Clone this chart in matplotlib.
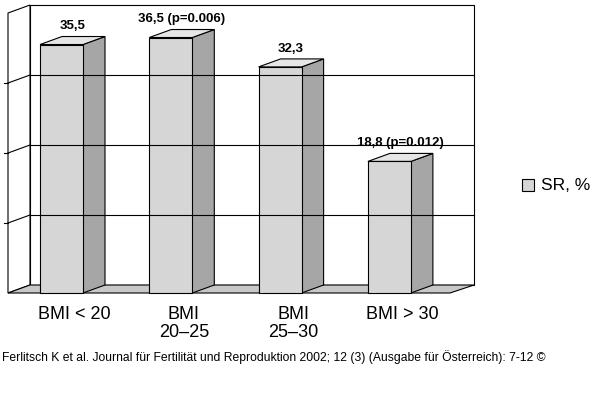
import matplotlib
matplotlib.use("Agg")
import matplotlib.pyplot as plt
from matplotlib.patches import Polygon

categories = ["BMI < 20", "BMI\n20–25", "BMI\n25–30", "BMI > 30"]
values = [35.5, 36.5, 32.3, 18.8]
labels = ["35,5", "36,5 (p=0.006)", "32,3", "18,8 (p=0.012)"]
series_name = "SR, %"
caption = "Ferlitsch K et al. Journal für Fertilität und Reproduktion 2002; 12 (3) (Ausgabe für Österreich): 7-12 ©"

fig = plt.figure(figsize=(6, 4.08), dpi=100)
ax = fig.add_axes([0, 0, 1, 1])
ax.set_xlim(0, 600)
ax.set_ylim(-16.43, 41.86)
ax.axis("off")

dx, dv = 22, 8 / 7
ymax = 40
ax.add_patch(Polygon([(30, dv), (474, dv), (474, ymax + dv), (30, ymax + dv)], closed=True,
                     facecolor="white", edgecolor="black", lw=0.8))
ax.add_patch(Polygon([(8, 0), (30, dv), (30, ymax + dv), (8, ymax)], closed=True,
                     facecolor="white", edgecolor="black", lw=0.8))
ax.add_patch(Polygon([(8, 0), (450, 0), (474, dv), (30, dv)], closed=True,
                     facecolor="#c8c8c8", edgecolor="black", lw=0.8))
for g in [10, 20, 30]:
    ax.plot([30, 474], [g + dv, g + dv], color="black", lw=0.8)
    ax.plot([8, 30], [g, g + dv], color="black", lw=0.8)
    ax.plot([4, 8], [g, g], color="black", lw=0.8)

w = 43
x0s = [40 + 109.3 * i for i in range(len(values))]
for x0, v, lab, cat in zip(x0s, values, labels, categories):
    ax.add_patch(Polygon([(x0 + w, 0), (x0 + w + dx, dv), (x0 + w + dx, v + dv), (x0 + w, v)],
                         closed=True, facecolor="#a6a6a6", edgecolor="black", lw=0.8))
    ax.add_patch(Polygon([(x0, v), (x0 + w, v), (x0 + w + dx, v + dv), (x0 + dx, v + dv)],
                         closed=True, facecolor="#e6e6e6", edgecolor="black", lw=0.8))
    ax.add_patch(Polygon([(x0, 0), (x0 + w, 0), (x0 + w, v), (x0, v)],
                         closed=True, facecolor="#d6d6d6", edgecolor="black", lw=0.8))
    ax.text(x0 + w / 2 + dx / 2, v + dv + 0.6, lab, ha="center", va="bottom",
            fontsize=9.5, fontweight="bold", family="Liberation Sans")
    ax.text(x0 + w / 2 + dx / 2 + 2, -1.9, cat, ha="center", va="top", fontsize=13,
            family="Liberation Sans", linespacing=1.05)

ax.add_patch(Polygon([(522, 14.6), (534, 14.6), (534, 16.3), (522, 16.3)], closed=True,
                     facecolor="#d6d6d6", edgecolor="black", lw=0.8))
ax.text(541, 15.4, series_name, va="center", ha="left", fontsize=12.5, family="Liberation Sans")

ax.text(2, (293 - 357) / 7, caption, va="center", ha="left", fontsize=8.7, family="Liberation Sans")

fig.savefig("out.png", dpi=100, facecolor="white")
